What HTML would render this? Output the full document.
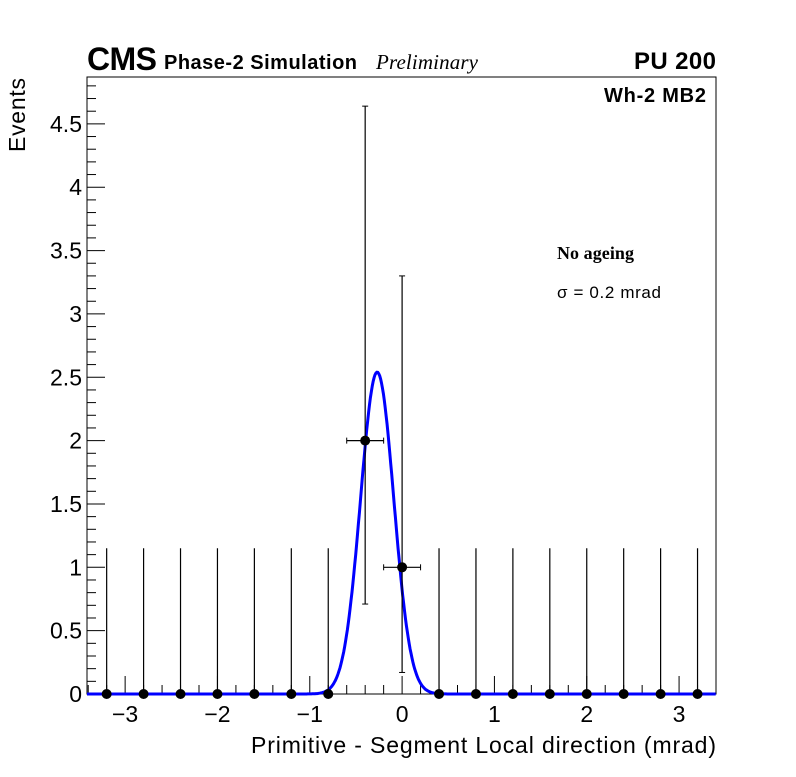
<!DOCTYPE html>
<html><head><meta charset="utf-8"><style>
body{margin:0;background:#fff;}
svg text{font-family:"Liberation Sans",sans-serif;}
</style></head><body>
<svg id="chart" width="796" height="772" xmlns="http://www.w3.org/2000/svg">
<rect width="796" height="772" fill="#fff"/>
<g id="axes"></g>
<g id="marks"></g>
<text x="87" y="70" font-size="32" font-weight="bold" textLength="70">CMS</text>
<text x="164" y="69" font-size="20" font-weight="bold" textLength="193">Phase-2 Simulation</text>
<text x="376" y="69" font-size="21" font-style="italic" style="font-family:'Liberation Serif',serif" textLength="102">Preliminary</text>
<text x="634" y="69" font-size="24" font-weight="bold" textLength="82">PU 200</text>
<text x="604" y="102" font-size="20" font-weight="bold" textLength="102">Wh-2 MB2</text>
<text x="557" y="259" font-size="18" font-weight="bold" style="font-family:'Liberation Serif',serif" textLength="77">No ageing</text>
<text x="557" y="298" font-size="17" textLength="104">σ = 0.2 mrad</text>
<text x="251" y="753" font-size="23" textLength="465">Primitive - Segment Local direction (mrad)</text>
<text transform="translate(25,152) rotate(-90)" font-size="23" textLength="74">Events</text>
</svg>
<script>
const binCenters=[-3.2,-2.8,-2.4,-2.0,-1.6,-1.2,-0.8,-0.4,0.0,0.4,0.8,1.2,1.6,2.0,2.4,2.8,3.2];
const counts=[0,0,0,0,0,0,0,2,1,0,0,0,0,0,0,0,0];
const errUp=[1.15,1.15,1.15,1.15,1.15,1.15,1.15,2.64,2.3,1.15,1.15,1.15,1.15,1.15,1.15,1.15,1.15];
const errDown=[0,0,0,0,0,0,0,1.29,0.83,0,0,0,0,0,0,0,0];
const gausAmp=2.54, gausMean=-0.27, gausSigma=0.18;
const xTicks=[-3,-2,-1,0,1,2,3];
const yTicks=[0,0.5,1,1.5,2,2.5,3,3.5,4,4.5];
const yTickLabels=["0","0.5","1","1.5","2","2.5","3","3.5","4","4.5"];

const L=87,R=716,T=77,B=694;
const xmin=-3.413,xmax=3.4,ymax=4.87;
const X=v=>L+(v-xmin)/(xmax-xmin)*(R-L);
const Y=v=>B-v/ymax*(B-T);
const NS="http://www.w3.org/2000/svg";
function el(p,t,a){const e=document.createElementNS(NS,t);for(const k in a)e.setAttribute(k,a[k]);p.appendChild(e);return e;}
const ax=document.getElementById('axes'),mk=document.getElementById('marks');
const frame=el(ax,'rect',{x:L,y:T,width:R-L,height:B-T,fill:'none',stroke:'#000','stroke-width':1});


for(let v=-3.4;v<=3.41;v+=0.2){const r=Math.round(v*10)/10;const maj=Math.abs(r-Math.round(r))<1e-6;
 const t=el(ax,'line',{x1:X(r),x2:X(r),y1:B,y2:B-(maj?18:9),stroke:'#000'});
 
 }
xTicks.forEach(v=>{const t=el(ax,'text',{x:X(v),y:B+28,'font-size':23,'text-anchor':'middle'});t.textContent=(v<0?'\u2212'+(-v):String(v));
 
 });
for(let i=0;i<=48;i++){const v=i/10;const maj=i%5==0;
 const t=el(ax,'line',{x1:L,x2:L+(maj?18:9),y1:Y(v),y2:Y(v),stroke:'#000'});
 
 }
yTicks.forEach((v,i)=>{const t=el(ax,'text',{x:L-5,y:Y(v)+8,'font-size':23,'text-anchor':'end'});t.textContent=yTickLabels[i];
 
 });
let d='';for(let x=xmin;x<=xmax;x+=0.01){const y=gausAmp*Math.exp(-0.5*((x-gausMean)/gausSigma)**2);d+=(d?'L':'M')+X(x).toFixed(1)+','+Y(y).toFixed(1);}
const c=el(mk,'path',{d:d,fill:'none',stroke:'#0000ff','stroke-width':3});


binCenters.forEach((xc,i)=>{const v=counts[i];const g=el(mk,'g',{});
 
 
 el(g,'line',{x1:X(xc),x2:X(xc),y1:Y(v+errUp[i]),y2:Y(v-errDown[i]),stroke:'#000','stroke-width':1.2});
 if(v>0){el(g,'line',{x1:X(xc-0.2),x2:X(xc+0.2),y1:Y(v),y2:Y(v),stroke:'#000','stroke-width':1.2});
  [X(xc-0.2),X(xc+0.2)].forEach(px=>el(g,'line',{x1:px,x2:px,y1:Y(v)-3,y2:Y(v)+3,stroke:'#000'}));
  [Y(v+errUp[i]),Y(v-errDown[i])].forEach(yy=>el(g,'line',{x1:X(xc)-3,x2:X(xc)+3,y1:yy,y2:yy,stroke:'#000'}));}
 el(g,'circle',{cx:X(xc),cy:Y(v),r:5,fill:'#000'});});
</script>
</body></html>
